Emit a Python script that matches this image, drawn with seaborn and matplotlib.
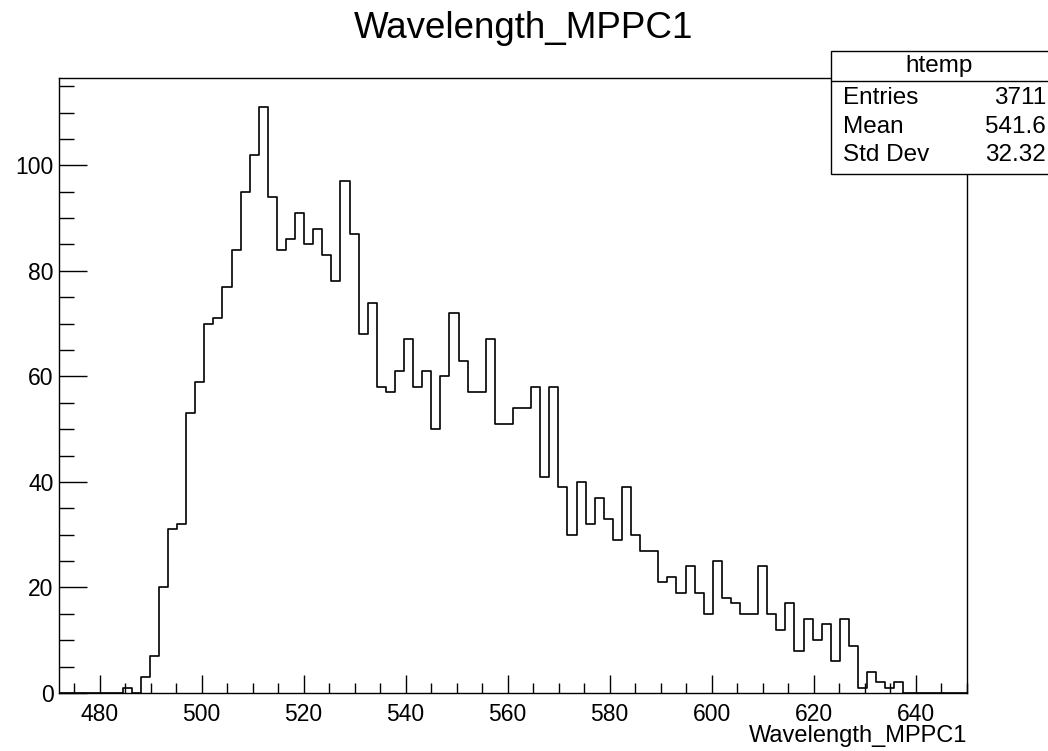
import numpy as np
import pandas as pd
import matplotlib
matplotlib.use("Agg")
import matplotlib.pyplot as plt
from matplotlib.ticker import MultipleLocator
from matplotlib.patches import Rectangle
import seaborn as sns

# ---- data (100 bins) ----
x_min = 472.06
bin_width = 1.78
n_bins = 100
counts = [0, 0, 0, 0, 0, 0, 0, 1, 0, 3,
          7, 20, 31, 32, 53, 59, 70, 71, 77, 84,
          95, 102, 111, 94, 84, 86, 91, 85, 88, 83,
          78, 97, 87, 68, 74, 58, 57, 61, 67, 58,
          61, 50, 60, 72, 63, 57, 57, 67, 51, 51,
          54, 54, 58, 41, 58, 39, 30, 40, 32, 37,
          33, 29, 39, 30, 27, 27, 21, 22, 19, 24,
          19, 15, 25, 18, 17, 15, 15, 24, 15, 12,
          17, 8, 14, 10, 13, 6, 14, 9, 1, 4,
          2, 1, 2, 0, 0, 0, 0, 0, 0, 0]
title = "Wavelength_MPPC1"
xlabel = "Wavelength_MPPC1"
hist_name = "htemp"
stat_labels = ["Entries", "Mean", "Std Dev"]
stat_values = ["3711", "541.6", "32.32"]
x_major = [480, 500, 520, 540, 560, 580, 600, 620, 640]
y_major = [0, 20, 40, 60, 80, 100]

x_max = x_min + bin_width * n_bins
centers = x_min + bin_width * (np.arange(n_bins) + 0.5)
df = pd.DataFrame({"wl": centers, "n": np.asarray(counts, dtype=float)})

sns.set_style("white")
plt.rcParams["font.family"] = ["Liberation Sans", "DejaVu Sans"]
plt.rcParams["text.color"] = "black"
plt.rcParams["xtick.color"] = "black"
plt.rcParams["ytick.color"] = "black"
plt.rcParams["xtick.labelcolor"] = "black"
plt.rcParams["ytick.labelcolor"] = "black"

W, H = 1048, 751
fig = plt.figure(figsize=(W / 100, H / 100), dpi=100)
L, R, T, B = 59, 967, 78, 693
ax = fig.add_axes([L / W, 1 - B / H, (R - L) / W, (B - T) / H])

sns.histplot(data=df, x="wl", weights="n", binwidth=bin_width, binrange=(x_min, x_max),
             element="step", fill=False, color="black", linewidth=1.2, ax=ax)

ax.set_xlim(x_min, x_max)
ax.set_ylim(0, max(counts) * 1.05)
ax.set_xticks(x_major)
ax.set_yticks(y_major)
ax.xaxis.set_minor_locator(MultipleLocator(5))
ax.yaxis.set_minor_locator(MultipleLocator(5))
ax.set_xlabel("")
ax.set_ylabel("")
for s in ax.spines.values():
    s.set_color("black")
    s.set_linewidth(1.0)
ax.tick_params(axis="x", which="major", direction="in", length=13, width=1,
               labelsize=16.5, pad=7, bottom=True, top=False, colors="black")
ax.tick_params(axis="x", which="minor", direction="in", length=7, width=1,
               bottom=True, top=False, colors="black")
ax.tick_params(axis="y", which="major", direction="in", length=20, width=1,
               labelsize=16.5, pad=4, left=True, right=False, colors="black")
ax.tick_params(axis="y", which="minor", direction="in", length=10.5, width=1,
               left=True, right=False, colors="black")

fig.text(0.5, 1 - 29 / H, title, ha="center", va="center", fontsize=26.5, color="black")
fig.text(R / W, 1 - 736 / H, xlabel, ha="right", va="center", fontsize=17, color="black")

# stats box
bx0, bx1, by0, by1, bdiv = 830.5, 1060, 51, 174, 80.5
fig.patches.append(Rectangle((bx0 / W, 1 - by1 / H), (bx1 - bx0) / W, (by1 - by0) / H,
                             transform=fig.transFigure, facecolor="white",
                             edgecolor="black", linewidth=1.0, zorder=5))
fig.add_artist(plt.Line2D([bx0 / W, 1], [1 - bdiv / H] * 2, transform=fig.transFigure,
                          color="black", linewidth=1.0, zorder=6))
fig.text((bx0 + 1048) / 2 / W, 1 - 66 / H, hist_name, ha="center", va="center",
         fontsize=17.5, zorder=7, color="black")
row_y = [98, 127, 155]
for lab, val, yy in zip(stat_labels, stat_values, row_y):
    fig.text(843 / W, 1 - yy / H, lab, ha="left", va="center", fontsize=17.5,
             zorder=7, color="black")
    fig.text(1046 / W, 1 - yy / H, val, ha="right", va="center", fontsize=17.5,
             zorder=7, color="black")

fig.savefig("out.png", dpi=100, facecolor="white")
